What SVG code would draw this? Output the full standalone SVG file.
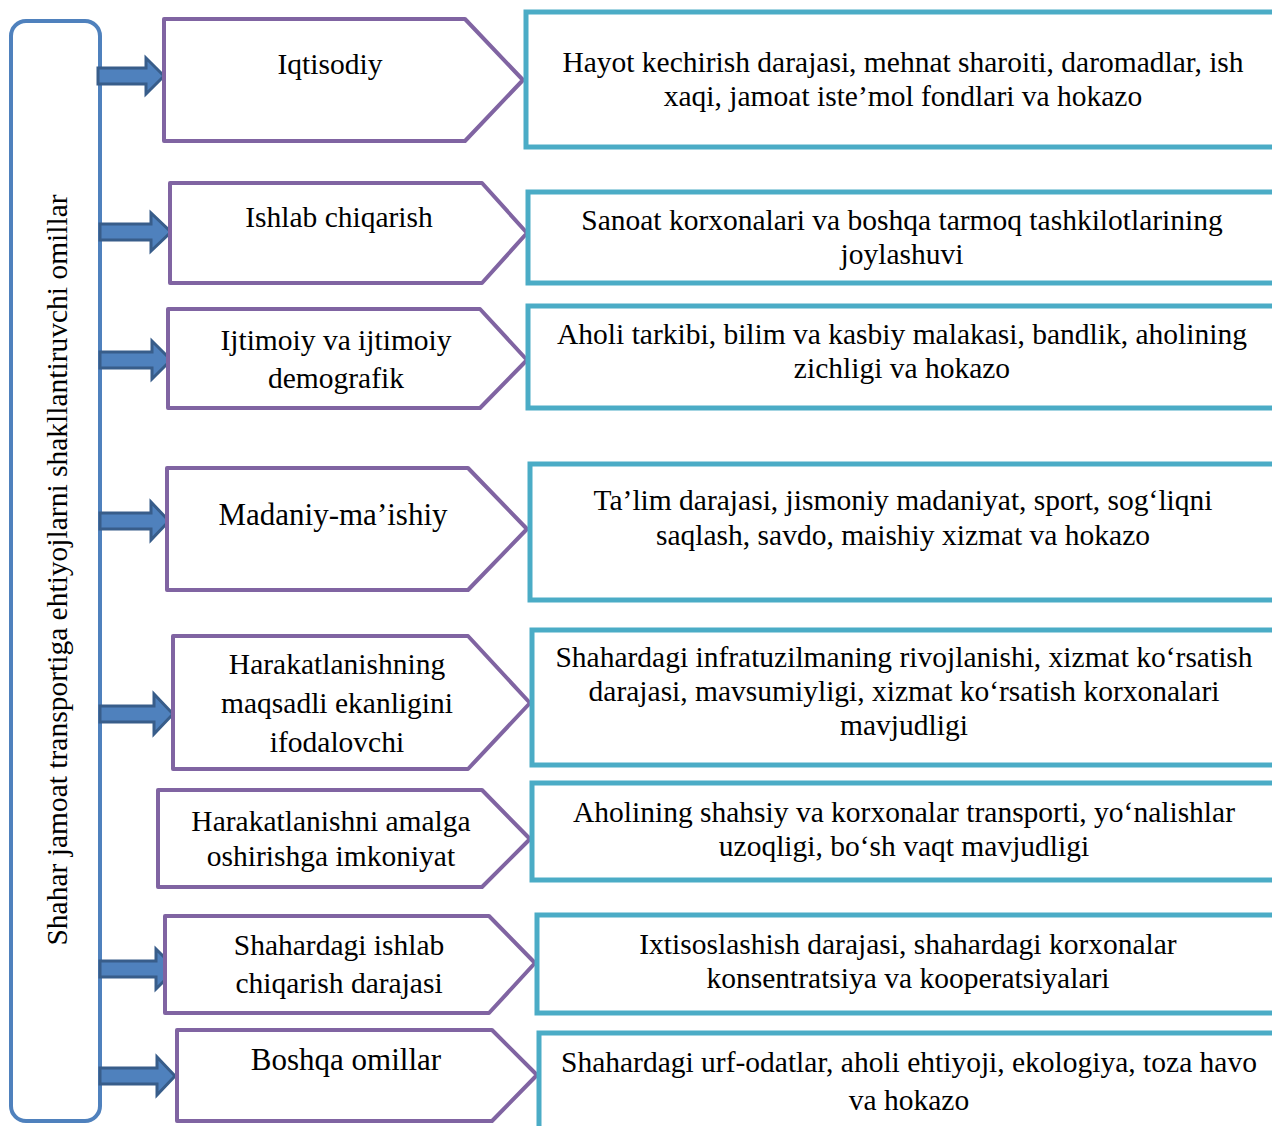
<svg xmlns="http://www.w3.org/2000/svg" width="1272" height="1126" viewBox="0 0 1272 1126">
<style>
text{font-family:"Liberation Serif","Times New Roman",serif;fill:#000;text-anchor:middle}
.t{font-size:29.5px}
.tb{font-size:31px}
.lb{fill:#fff;stroke:#4F81BD;stroke-width:4}
.pg{fill:#fff;stroke:#8064A2;stroke-width:4;stroke-linejoin:round}
.rb{fill:#fff;stroke:#4BACC6;stroke-width:5}
.ar{fill:#4F81BD;stroke:#385D8A;stroke-width:3;stroke-linejoin:miter}
</style>
<rect width="1272" height="1126" fill="#fff"/>

<g id="main">
<rect class="lb" x="11" y="21" width="89" height="1100" rx="15"/>
<text class="t" transform="translate(67,570) rotate(-90)">Shahar jamoat transportiga ehtiyojlarni shakllantiruvchi omillar</text>
</g>

<g id="connectors">
<path class="ar" d="M98,68 L146,68 L146,58 L164,76 L146,94 L146,84 L98,84 Z"/>
<path class="ar" d="M100,224 L151,224 L151,213 L171,232 L151,251 L151,240 L100,240 Z"/>
<path class="ar" d="M100,352 L152,352 L152,341 L171,360 L152,379 L152,368 L100,368 Z"/>
<path class="ar" d="M100,513 L151,513 L151,502 L169,521 L151,540 L151,529 L100,529 Z"/>
<path class="ar" d="M100,706 L154,706 L154,694 L173,714 L154,734 L154,722 L100,722 Z"/>
<path class="ar" d="M100,961 L156,961 L156,949 L176,969 L156,989 L156,977 L100,977 Z"/>
<path class="ar" d="M100,1068 L157,1068 L157,1057 L175,1076 L157,1095 L157,1084 L100,1084 Z"/>
</g>

<g id="n1">
<path class="pg" d="M164,19 L465,19 L523,80 L465,141 L164,141 Z"/>
<text class="t" x="330" y="74">Iqtisodiy</text>
</g>
<g id="d1">
<rect class="rb" x="526" y="12" width="800" height="135"/>
<text class="t" x="903" y="72">Hayot kechirish darajasi, mehnat sharoiti, daromadlar, ish</text>
<text class="t" x="903" y="106">xaqi, jamoat iste’mol fondlari va hokazo</text>
</g>

<g id="n2">
<path class="pg" d="M170,183 L482,183 L527,233 L482,283 L170,283 Z"/>
<text class="t" x="339" y="227">Ishlab chiqarish</text>
</g>
<g id="d2">
<rect class="rb" x="528" y="192" width="800" height="91"/>
<text class="t" x="902" y="230">Sanoat korxonalari va boshqa tarmoq tashkilotlarining</text>
<text class="t" x="902" y="264">joylashuvi</text>
</g>

<g id="n3">
<path class="pg" d="M168,309 L480,309 L527,360 L480,408 L168,408 Z"/>
<text class="t" x="336" y="350">Ijtimoiy va ijtimoiy</text>
<text class="t" x="336" y="388">demografik</text>
</g>
<g id="d3">
<rect class="rb" x="528" y="306" width="800" height="102"/>
<text class="t" x="902" y="344">Aholi tarkibi, bilim va kasbiy malakasi, bandlik, aholining</text>
<text class="t" x="902" y="378">zichligi va hokazo</text>
</g>

<g id="n4">
<path class="pg" d="M167,468 L468,468 L527,529 L468,590 L167,590 Z"/>
<text class="tb" x="333" y="525">Madaniy-ma’ishiy</text>
</g>
<g id="d4">
<rect class="rb" x="530" y="464" width="800" height="136"/>
<text class="t" x="903" y="510">Ta’lim darajasi, jismoniy madaniyat, sport, sog‘liqni</text>
<text class="t" x="903" y="545">saqlash, savdo, maishiy xizmat va hokazo</text>
</g>

<g id="n5">
<path class="pg" d="M173,636 L468,636 L530,703 L468,769 L173,769 Z"/>
<text class="t" x="337" y="674">Harakatlanishning</text>
<text class="t" x="337" y="713">maqsadli ekanligini</text>
<text class="t" x="337" y="752">ifodalovchi</text>
</g>
<g id="d5">
<rect class="rb" x="532" y="630" width="800" height="135"/>
<text class="t" x="904" y="667">Shahardagi infratuzilmaning rivojlanishi, xizmat ko‘rsatish</text>
<text class="t" x="904" y="701">darajasi, mavsumiyligi, xizmat ko‘rsatish korxonalari</text>
<text class="t" x="904" y="735">mavjudligi</text>
</g>

<g id="n6">
<path class="pg" d="M158,790 L482,790 L530,839 L482,887 L158,887 Z"/>
<text class="t" x="331" y="831">Harakatlanishni amalga</text>
<text class="t" x="331" y="866">oshirishga imkoniyat</text>
</g>
<g id="d6">
<rect class="rb" x="532" y="783" width="800" height="97"/>
<text class="t" x="904" y="822">Aholining shahsiy va korxonalar transporti, yo‘nalishlar</text>
<text class="t" x="904" y="856">uzoqligi, bo‘sh vaqt mavjudligi</text>
</g>

<g id="n7">
<path class="pg" d="M165,916 L489,916 L535,963 L489,1013 L165,1013 Z"/>
<text class="t" x="339" y="955">Shahardagi ishlab</text>
<text class="t" x="339" y="993">chiqarish darajasi</text>
</g>
<g id="d7">
<rect class="rb" x="537" y="915" width="800" height="98"/>
<text class="t" x="908" y="954">Ixtisoslashish darajasi, shahardagi korxonalar</text>
<text class="t" x="908" y="988">konsentratsiya va kooperatsiyalari</text>
</g>

<g id="n8">
<path class="pg" d="M177,1030 L492,1030 L537,1075 L492,1121 L177,1121 Z"/>
<text class="tb" x="346" y="1070">Boshqa omillar</text>
</g>
<g id="d8">
<rect class="rb" x="539" y="1033" width="800" height="200"/>
<text class="t" x="909" y="1072">Shahardagi urf-odatlar, aholi ehtiyoji, ekologiya, toza havo</text>
<text class="t" x="909" y="1110">va hokazo</text>
</g>
</svg>
